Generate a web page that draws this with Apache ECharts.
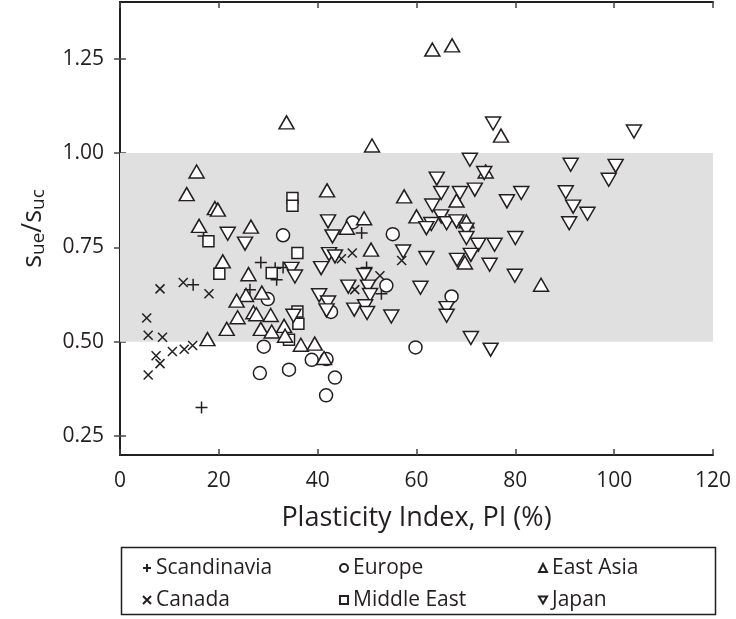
<!DOCTYPE html>
<html>
<head>
<meta charset="utf-8">
<script src="https://cdn.jsdelivr.net/npm/echarts@6/dist/echarts.min.js"></script>
<style>
  html, body { margin: 0; padding: 0; background: #fff; }
  #chart { width: 736px; height: 619px; }
</style>
</head>
<body>
<div id="chart"></div>
<script>
// [PI (%), s_ue/s_uc]
const scandinavia = [[14.8, 0.651], [16.9, 0.78], [16.5, 0.326], [26.3, 0.638], [28.5, 0.71], [31.4, 0.695],
  [33.0, 0.697], [31.7, 0.664], [48.9, 0.788], [49.9, 0.697], [52.9, 0.627]];
const canada = [[8.1, 0.64], [12.8, 0.657], [18.0, 0.627], [5.4, 0.563], [5.7, 0.517], [8.6, 0.512], [7.3, 0.463],
  [8.1, 0.442], [10.6, 0.474], [13.0, 0.48], [14.7, 0.49], [5.7, 0.412], [44.8, 0.72], [47.0, 0.735], [57.0, 0.715],
  [52.6, 0.675], [47.5, 0.638]];
const europe = [[29.9, 0.613], [29.1, 0.487], [28.3, 0.417], [33.0, 0.782], [47.1, 0.816], [55.2, 0.785], [53.9, 0.649],
  [42.7, 0.579], [38.8, 0.452], [41.8, 0.454], [34.2, 0.426], [43.5, 0.405], [41.7, 0.358], [59.8, 0.485], [67.1, 0.62]];
const middleEast = [[17.9, 0.766], [20.1, 0.68], [30.7, 0.682], [34.9, 0.881], [34.9, 0.86], [35.9, 0.735], [35.9, 0.58],
  [36.1, 0.548], [34.2, 0.505]];
const eastAsia = [[15.5, 0.951], [13.5, 0.891], [19.2, 0.854], [19.8, 0.85], [16.0, 0.807], [26.5, 0.805], [20.8, 0.713],
  [26.0, 0.679], [28.7, 0.63], [25.5, 0.624], [23.6, 0.609], [27.0, 0.578], [27.6, 0.573], [23.8, 0.565], [30.5, 0.571],
  [21.6, 0.534], [28.5, 0.534], [30.7, 0.527], [17.7, 0.507], [33.7, 1.081], [51.0, 1.02], [41.9, 0.901], [57.5, 0.885],
  [60.0, 0.832], [49.4, 0.827], [45.9, 0.802], [50.8, 0.744], [33.2, 0.542], [33.4, 0.516], [36.6, 0.492], [39.4, 0.495],
  [41.3, 0.457], [63.2, 1.274], [67.2, 1.285], [77.1, 1.046], [74.0, 0.951], [68.1, 0.874], [70.1, 0.819], [69.8, 0.71],
  [85.2, 0.651]];
const japan = [[21.8, 0.786], [25.3, 0.76], [42.1, 0.819], [43.0, 0.779], [42.3, 0.732], [43.5, 0.726], [57.3, 0.739],
  [40.7, 0.695], [34.7, 0.693], [35.4, 0.673], [49.4, 0.677], [46.2, 0.646], [50.2, 0.646], [60.8, 0.643], [40.3, 0.623],
  [42.1, 0.604], [41.8, 0.583], [50.6, 0.624], [47.4, 0.585], [49.6, 0.594], [50.0, 0.576], [54.9, 0.567], [35.1, 0.569],
  [75.5, 1.078], [70.8, 0.982], [73.7, 0.947], [64.1, 0.932], [65.0, 0.894], [68.8, 0.894], [71.8, 0.903], [78.3, 0.872],
  [81.2, 0.894], [63.2, 0.861], [65.0, 0.832], [63.0, 0.812], [62.0, 0.801], [66.1, 0.814], [68.1, 0.819], [70.1, 0.797],
  [70.1, 0.775], [72.5, 0.757], [75.8, 0.757], [80.0, 0.775], [71.0, 0.73], [68.2, 0.717], [74.8, 0.704], [62.0, 0.722],
  [79.9, 0.675], [66.1, 0.589], [66.1, 0.569], [71.0, 0.51], [75.0, 0.479], [104.0, 1.057], [91.2, 0.969], [100.3, 0.966],
  [98.9, 0.929], [90.2, 0.896], [91.7, 0.858], [94.6, 0.839], [90.9, 0.814]];

const xTicks = [0, 20, 40, 60, 80, 100, 120];
const yTicks = [0.25, 0.5, 0.75, 1.0, 1.25];
const band = [0.5, 1.0];

const INK = '#231f20';
const FONT = 'Open Sans';

const chart = echarts.init(document.getElementById('chart'));

// 符号形状
const SYM = {
  plus: 'path://M5,0L5,10M0,5L10,5',
  cross: 'path://M0,0L10,10M10,0L0,10',
  down: 'path://M0,0L10,0L5,8.66Z'
};

function scatter(name, data, symbol, size, extra) {
  return Object.assign({
    name: name,
    type: 'scatter',
    data: data,
    symbol: symbol,
    symbolSize: size,
    itemStyle: { color: '#fff', borderColor: INK, borderWidth: 1.5, opacity: 1 },
    emphasis: { disabled: true },
    xAxisIndex: 0,
    yAxisIndex: 0
  }, extra || {});
}

const tickStyle = { show: true, inside: true, length: 6, lineStyle: { color: '#444', width: 1.5 } };

chart.setOption({
  animation: false,
  textStyle: { fontFamily: FONT, color: INK },
  grid: { left: 120, right: 23, top: 2, bottom: 164 },
  xAxis: [
    {
      type: 'value', min: 0, max: 120, interval: 20, position: 'bottom',
      name: 'Plasticity Index, PI (%)', nameLocation: 'middle', nameGap: 50,
      nameTextStyle: { fontSize: 27, color: INK, fontFamily: FONT },
      axisLine: { show: true, lineStyle: { color: INK, width: 2 } },
      axisTick: Object.assign({}, tickStyle, { customValues: xTicks }),
      axisLabel: { fontSize: 21, color: INK, margin: 16, fontFamily: FONT, customValues: xTicks },
      splitLine: { show: false }
    },
    {
      type: 'value', min: 0, max: 120, interval: 20, position: 'top',
      axisLine: { show: true, lineStyle: { color: INK, width: 2 } },
      axisTick: Object.assign({}, tickStyle, { customValues: xTicks }),
      axisLabel: { show: false },
      splitLine: { show: false }
    }
  ],
  yAxis: [
    {
      type: 'value', min: 0.2, max: 1.4, position: 'left',
      name: '{a|s}{b|ue}{a|/s}{b|uc}', nameLocation: 'middle', nameGap: 70, nameRotate: 90,
      nameTextStyle: {
        rich: {
          a: { fontSize: 27, fontFamily: FONT, color: INK, lineHeight: 34 },
          b: { fontSize: 19, fontFamily: FONT, color: INK, lineHeight: 34, padding: [12, 0, 0, 0] }
        }
      },
      axisLine: { show: true, lineStyle: { color: INK, width: 2 } },
      axisTick: Object.assign({}, tickStyle, { customValues: yTicks }),
      axisLabel: {
        fontSize: 21, color: INK, margin: 16, fontFamily: FONT, customValues: yTicks,
        formatter: v => v.toFixed(2)
      },
      splitLine: { show: false }
    },
    {
      type: 'value', min: 0.2, max: 1.4, position: 'right',
      axisLine: { show: true, lineStyle: { color: INK, width: 2 } },
      axisTick: Object.assign({}, tickStyle, { customValues: yTicks }),
      axisLabel: { show: false },
      splitLine: { show: false }
    }
  ],
  legend: [
    { data: ['Scandinavia', 'Canada'], left: 137, top: 551 },
    { data: ['Europe', 'Middle East'], left: 334, top: 551 },
    { data: ['East Asia', 'Japan'], left: 533, top: 551 }
  ].map(l => Object.assign(l, {
    orient: 'vertical', itemWidth: 8, itemHeight: 8, itemGap: 8,
    textStyle: { fontSize: 21, color: INK, fontFamily: FONT, lineHeight: 24 },
    selectedMode: false
  })),
  graphic: [
    {
      type: 'rect', left: 119, top: 545, silent: true,
      shape: { width: 594, height: 67 },
      style: { fill: 'none', stroke: INK, lineWidth: 1.5 }
    }
  ],
  series: [
    scatter('Scandinavia', scandinavia, SYM.plus, 12, {
      markArea: {
        silent: true,
        itemStyle: { color: '#e0e0e0' },
        data: [[{ yAxis: band[0] }, { yAxis: band[1] }]]
      }
    }),
    scatter('Canada', canada, SYM.cross, 9),
    scatter('Europe', europe, 'circle', 13),
    scatter('Middle East', middleEast, 'rect', 11),
    scatter('East Asia', eastAsia, 'triangle', [15, 13]),
    scatter('Japan', japan, SYM.down, [15, 13])
  ]
});
</script>
</body>
</html>
